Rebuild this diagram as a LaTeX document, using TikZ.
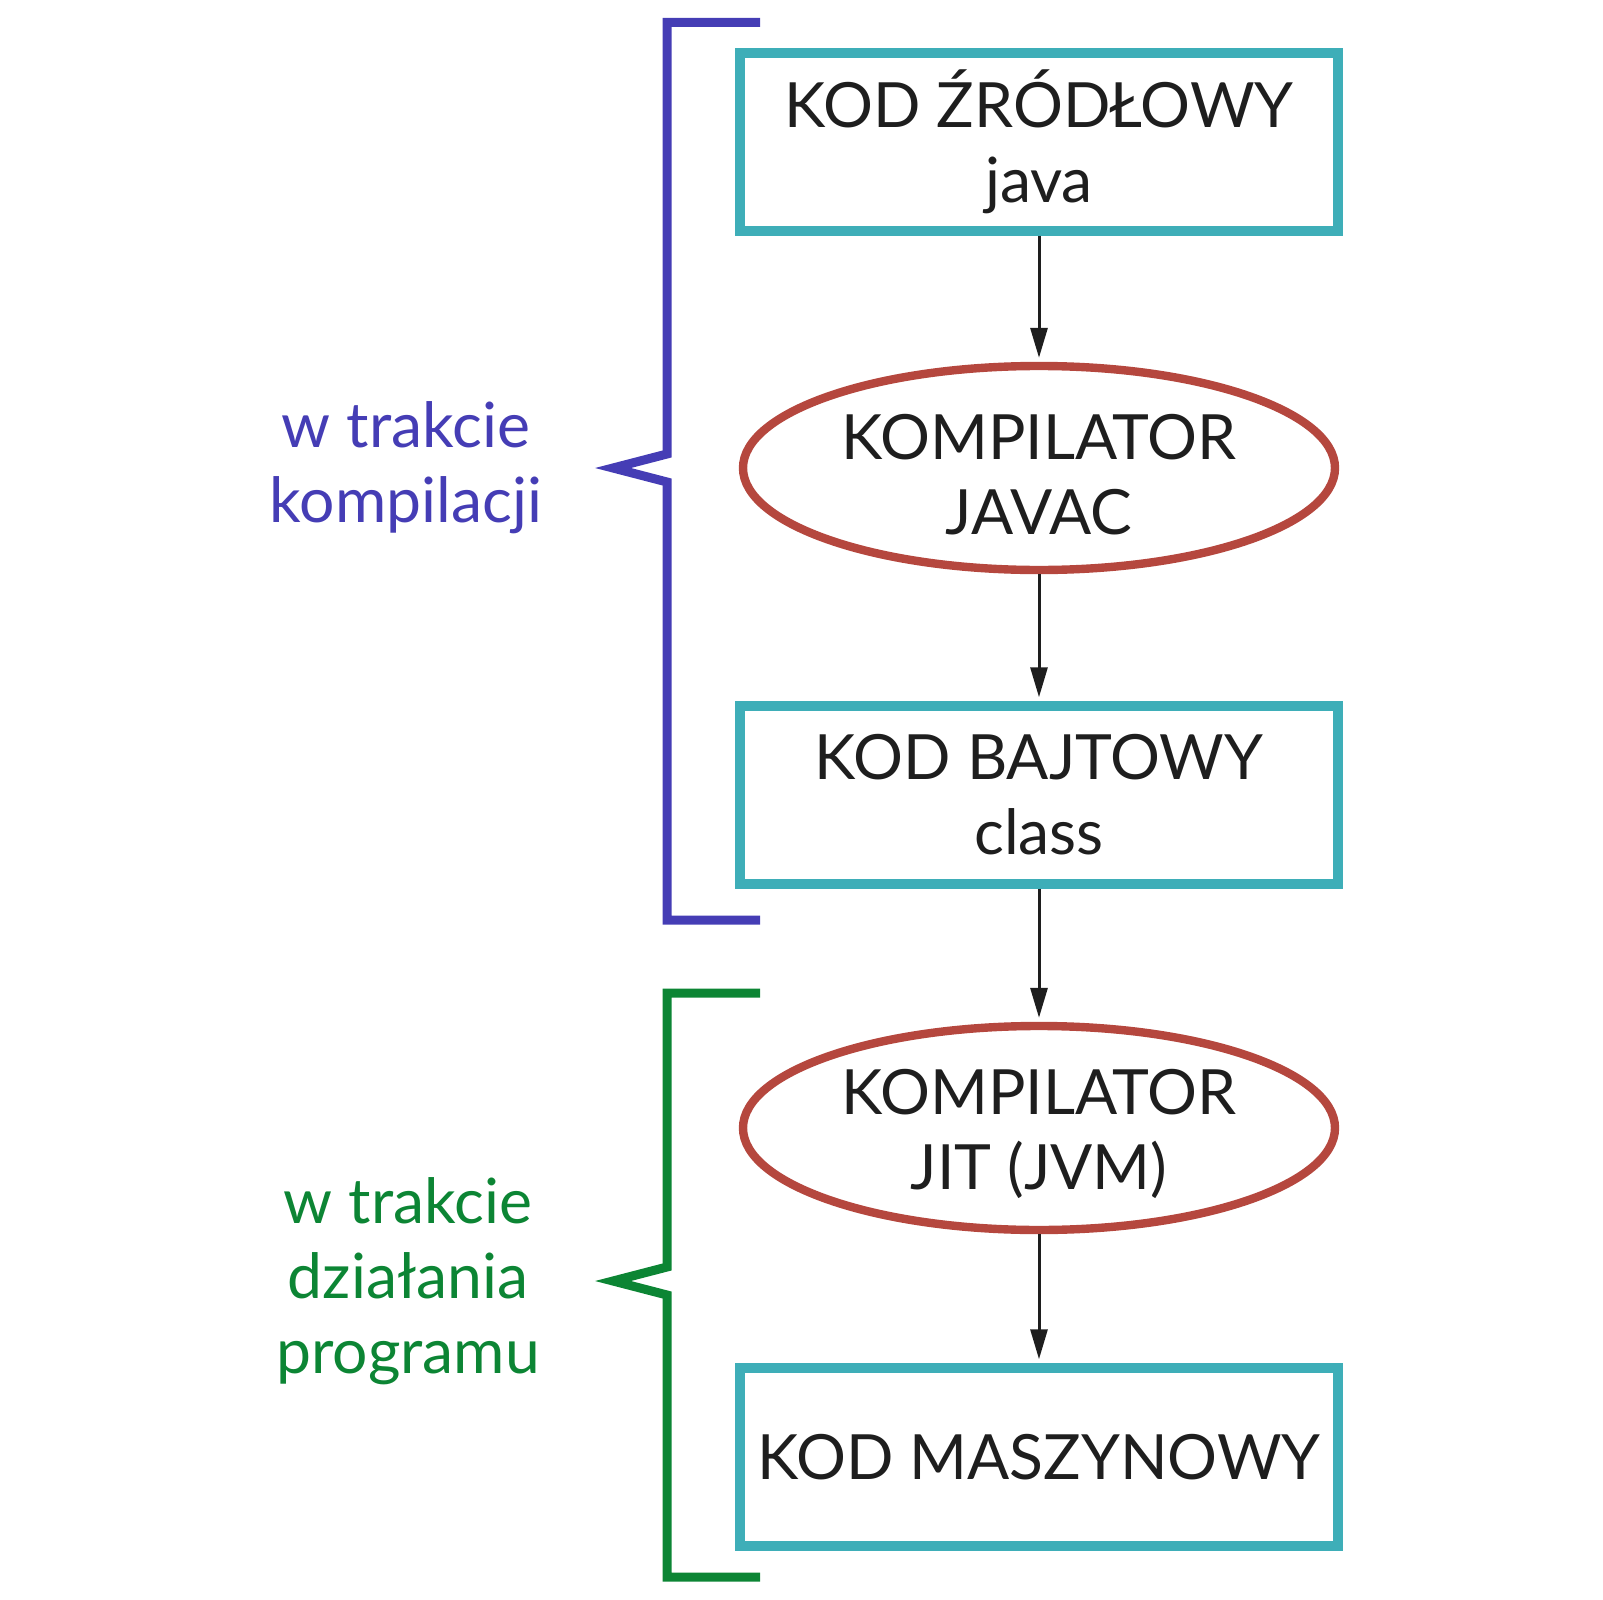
\documentclass[tikz,border=0pt]{standalone}
\usepackage{fontspec}
\setmainfont{Lato}
\usetikzlibrary{arrows.meta,shapes.geometric}
\definecolor{ink}{HTML}{1E1E1E}
\definecolor{boxteal}{HTML}{3EAEB8}
\definecolor{compred}{HTML}{B5473E}
\definecolor{bracblue}{HTML}{453DB5}
\definecolor{bracgreen}{HTML}{0C8534}
\begin{document}
\begin{tikzpicture}[
        every node/.style={font=\fontsize{31.2}{37.5}\selectfont},
        box/.style={draw=boxteal, line width=4.75pt, minimum width=299pt, minimum height=89pt, inner sep=0pt, align=center, text=ink},
        comp/.style={ellipse, draw=compred, line width=4.2pt, minimum width=296pt, minimum height=102pt, inner sep=0pt, align=center, text=ink},
        flow/.style={-{Triangle[length=15pt,width=8.5pt]}, line width=1.5pt, draw=ink, shorten >=2pt},
        brac/.style={line width=4.5pt, miter limit=25}
    ]
            \useasboundingbox (0pt,0pt) rectangle (801.5pt,-800pt);

            \node[box] (src) at (519.5pt,-71pt) {KOD ŹRÓDŁOWY\\java};
            \node[comp] (javac) at (519.5pt,-234pt) {\vphantom{Ź}KOMPILATOR\\JAVAC};
            \node[box] (byte) at (519.5pt,-397.5pt) {KOD BAJTOWY\\class};
            \node[comp] (jit) at (519.5pt,-564pt) {\vphantom{Ź}KOMPILATOR\\JIT (JVM)};
            \node[box] (mach) at (519.5pt,-728.5pt) {KOD MASZYNOWY};

            \draw[flow] (src) to (javac);
            \draw[flow] (javac) to (byte);
            \draw[flow] (byte) to (jit);
            \draw[flow] (jit) to (mach);

            \draw[brac, bracblue] (380pt,-11.25pt) -- (333.5pt,-11.25pt) -- (333.5pt,-227pt)
                -- (306.5pt,-234pt) -- (333.5pt,-241pt) -- (333.5pt,-460pt) -- (380pt,-460pt);
            \draw[brac, bracgreen] (380pt,-496.5pt) -- (333.5pt,-496.5pt) -- (333.5pt,-633.5pt)
                -- (306.5pt,-640.5pt) -- (333.5pt,-647.5pt) -- (333.5pt,-788.5pt) -- (380pt,-788.5pt);

            \node[text=bracblue, align=center] (compile) at (203pt,-234pt) {w trakcie\\kompilacji};
            \node[text=bracgreen, align=center] (runtime) at (204pt,-640.5pt) {w trakcie\\działania\\programu};
        \end{tikzpicture}
\end{document}
